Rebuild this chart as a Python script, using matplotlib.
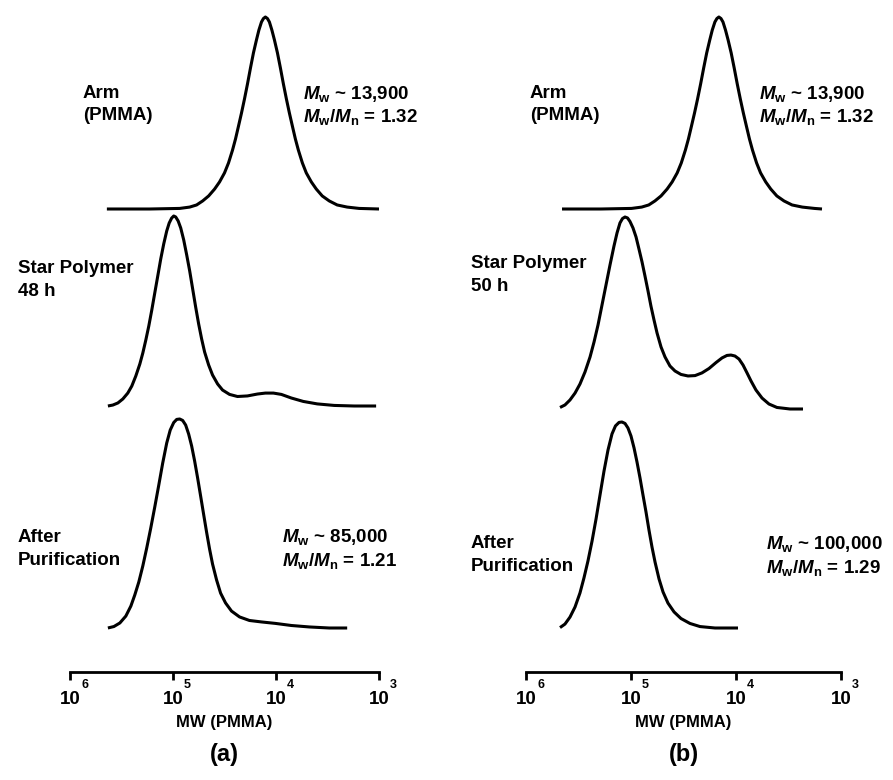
import numpy as np
import matplotlib
matplotlib.use('Agg')
import matplotlib.pyplot as plt

plt.rcParams['font.family'] = ['Liberation Sans', 'DejaVu Sans']
plt.rcParams['font.weight'] = 'bold'
plt.rcParams['mathtext.fontset'] = 'custom'
plt.rcParams['mathtext.rm'] = 'Liberation Sans:bold'
plt.rcParams['mathtext.it'] = 'Liberation Sans:italic:bold'
plt.rcParams['mathtext.bf'] = 'Liberation Sans:bold'

# ---- GPC traces: log10(MW) and normalised RI signal ----
# panel (a)
arm_a_logm = [5.642, 5.226, 4.935, 4.838, 4.771, 4.712, 4.654, 4.596, 4.548, 4.500, 4.461, 4.422,
              4.393, 4.364, 4.335, 4.306, 4.277, 4.248, 4.219, 4.190, 4.166, 4.141, 4.122, 4.103,
              4.083, 4.064, 4.040, 4.015, 3.986, 3.957, 3.928, 3.899, 3.870, 3.841, 3.812, 3.783,
              3.744, 3.706, 3.657, 3.609, 3.551, 3.483, 3.406, 3.309, 3.193, 3.0]
arm_a_sig = [0, 0, 0.003, 0.010, 0.021, 0.042, 0.068, 0.104, 0.141, 0.188, 0.240, 0.307,
             0.365, 0.432, 0.500, 0.573, 0.651, 0.734, 0.813, 0.880, 0.932, 0.974, 0.992, 1.0,
             0.992, 0.974, 0.932, 0.880, 0.813, 0.734, 0.651, 0.573, 0.500, 0.432, 0.365, 0.307,
             0.240, 0.188, 0.141, 0.104, 0.068, 0.042, 0.021, 0.010, 0.003, 0]

star_a_logm = [5.632, 5.584, 5.535, 5.487, 5.439, 5.400, 5.361, 5.322, 5.293, 5.264, 5.235, 5.206,
               5.177, 5.148, 5.119, 5.090, 5.061, 5.037, 5.013, 4.993, 4.974, 4.950, 4.925, 4.896,
               4.867, 4.838, 4.809, 4.780, 4.751, 4.722, 4.693, 4.654, 4.616, 4.567, 4.519, 4.451,
               4.374, 4.277, 4.180, 4.103, 4.025, 3.948, 3.851, 3.735, 3.599, 3.435, 3.241, 3.028]
star_a_sig = [0, 0.005, 0.016, 0.037, 0.068, 0.105, 0.158, 0.221, 0.279, 0.347, 0.421, 0.505,
              0.595, 0.684, 0.774, 0.853, 0.921, 0.963, 0.989, 1.0, 0.995, 0.974, 0.937, 0.874,
              0.795, 0.711, 0.616, 0.521, 0.432, 0.353, 0.284, 0.216, 0.163, 0.116, 0.084, 0.061,
              0.050, 0.053, 0.063, 0.068, 0.068, 0.061, 0.042, 0.024, 0.011, 0.003, 0, 0]

pur_a_logm = [5.632, 5.574, 5.516, 5.458, 5.409, 5.371, 5.332, 5.293, 5.255, 5.216, 5.177, 5.138,
              5.100, 5.061, 5.027, 4.993, 4.964, 4.935, 4.906, 4.877, 4.848, 4.819, 4.790, 4.761,
              4.732, 4.703, 4.674, 4.645, 4.616, 4.577, 4.538, 4.490, 4.432, 4.354, 4.258, 4.141,
              4.006, 3.851, 3.677, 3.483, 3.309]
pur_a_sig = [0, 0.007, 0.024, 0.057, 0.105, 0.158, 0.220, 0.297, 0.383, 0.478, 0.579, 0.684,
             0.789, 0.885, 0.947, 0.983, 0.998, 1.0, 0.993, 0.971, 0.928, 0.871, 0.799, 0.718,
             0.632, 0.545, 0.459, 0.378, 0.306, 0.230, 0.167, 0.120, 0.081, 0.053, 0.036, 0.029,
             0.022, 0.012, 0.005, 0, 0]

# panel (b)
arm_b_logm = [5.657, 5.286, 4.995, 4.898, 4.831, 4.772, 4.714, 4.656, 4.608, 4.560, 4.521, 4.482,
              4.453, 4.424, 4.395, 4.366, 4.337, 4.308, 4.279, 4.250, 4.226, 4.201, 4.182, 4.163,
              4.143, 4.124, 4.100, 4.075, 4.046, 4.017, 3.988, 3.959, 3.930, 3.901, 3.872, 3.843,
              3.804, 3.766, 3.717, 3.669, 3.611, 3.543, 3.466, 3.369, 3.253, 3.181]
arm_b_sig = arm_a_sig

star_b_logm = [5.676, 5.629, 5.581, 5.533, 5.486, 5.438, 5.390, 5.352, 5.314, 5.276, 5.238, 5.200,
               5.162, 5.133, 5.105, 5.081, 5.057, 5.033, 5.010, 4.981, 4.952, 4.924, 4.895, 4.867,
               4.838, 4.810, 4.781, 4.752, 4.714, 4.676, 4.629, 4.581, 4.524, 4.457, 4.390, 4.324,
               4.257, 4.190, 4.133, 4.086, 4.048, 4.010, 3.971, 3.933, 3.895, 3.857, 3.810, 3.752,
               3.686, 3.610, 3.486, 3.362]
star_b_sig = [0.008, 0.021, 0.047, 0.083, 0.130, 0.193, 0.271, 0.349, 0.438, 0.542, 0.646, 0.750,
              0.849, 0.917, 0.969, 0.992, 1.0, 0.995, 0.977, 0.943, 0.896, 0.833, 0.766, 0.693,
              0.615, 0.536, 0.464, 0.396, 0.323, 0.271, 0.224, 0.198, 0.180, 0.172, 0.174, 0.188,
              0.211, 0.242, 0.266, 0.279, 0.281, 0.276, 0.260, 0.229, 0.188, 0.146, 0.099, 0.057,
              0.026, 0.008, 0, 0]

pur_b_logm = [5.676, 5.629, 5.581, 5.533, 5.486, 5.448, 5.410, 5.371, 5.333, 5.295, 5.257, 5.219,
              5.181, 5.148, 5.114, 5.086, 5.057, 5.029, 5.000, 4.971, 4.943, 4.914, 4.886, 4.857,
              4.829, 4.800, 4.771, 4.733, 4.695, 4.648, 4.590, 4.524, 4.438, 4.343, 4.200, 3.981]
pur_b_sig = [0.002, 0.019, 0.053, 0.102, 0.170, 0.243, 0.325, 0.422, 0.529, 0.646, 0.762, 0.864,
             0.942, 0.981, 0.998, 1.0, 0.993, 0.971, 0.932, 0.874, 0.806, 0.728, 0.646, 0.563,
             0.476, 0.393, 0.320, 0.238, 0.175, 0.121, 0.078, 0.046, 0.022, 0.007, 0, 0]

tick_exps = [6, 5, 4, 3]

W, H = 893, 780
fig = plt.figure(figsize=(W / 100, H / 100), dpi=100)


def px(x, y):
    return x / W, 1 - y / H


def make_panel(left, right, traces, letter):
    ax = fig.add_axes([left / W, (H - 672) / H, (right - left) / W, 672 / H])
    for logm, sig, base, height in traces:
        ax.plot(10 ** np.array(logm), base + height * np.array(sig), color='black', lw=2.2,
                solid_joinstyle='round', solid_capstyle='butt')
    ax.set_xscale('log')
    ax.set_xlim(1e6, 1e3)
    ax.set_ylim(0, 672)
    for s in ['top', 'right', 'left']:
        ax.spines[s].set_visible(False)
    ax.spines['bottom'].set_linewidth(2.0)
    ax.set_yticks([])
    ax.set_xticks([10.0 ** e for e in tick_exps])
    ax.set_xticklabels(['10'] * len(tick_exps))
    ax.minorticks_off()
    ax.tick_params(axis='x', direction='out', length=5.5, width=2.0, pad=8, labelsize=13.5)
    for e in tick_exps:
        ax.annotate(str(e), xy=(10.0 ** e, 0), xycoords=ax.get_xaxis_transform(),
                    xytext=(10.5, -9), textcoords='offset points', ha='center', va='center',
                    fontsize=9, fontweight='bold')
    cx = (left + right) / 2
    fig.text(*px(cx, 722), 'MW (PMMA)', ha='center', va='center', fontsize=12)
    fig.text(*px(cx, 755), letter, ha='center', va='center', fontsize=17)
    return ax


ax_a = make_panel(70, 379, [(arm_a_logm, arm_a_sig, 463, 192),
                            (star_a_logm, star_a_sig, 266, 190),
                            (pur_a_logm, pur_a_sig, 44, 209)], '(a)')
ax_b = make_panel(526, 841, [(arm_b_logm, arm_b_sig, 463, 192),
                             (star_b_logm, star_b_sig, 263, 192),
                             (pur_b_logm, pur_b_sig, 44, 206)], '(b)')


def label(x, y, s, size=13.5):
    fig.text(*px(x, y), s, ha='left', va='baseline', fontsize=size)


# sample labels
label(83, 98, 'Arm')
label(83, 120, '(PMMA)')
label(18, 273, 'Star Polymer')
label(18, 296, '48 h')
label(18, 542, 'After')
label(18, 565, 'Purification')

label(530, 98, 'Arm')
label(530, 120, '(PMMA)')
label(471, 268, 'Star Polymer')
label(471, 291, '50 h')
label(471, 548, 'After')
label(471, 571, 'Purification')

# molecular weight annotations
label(303, 99, r'$M_{\rm w}$ ~ 13,900')
label(303, 122, r'$M_{\rm w}$/$M_{\rm n}$ = 1.32')
label(759, 99, r'$M_{\rm w}$ ~ 13,900')
label(759, 122, r'$M_{\rm w}$/$M_{\rm n}$ = 1.32')
label(282, 542, r'$M_{\rm w}$ ~ 85,000')
label(282, 566, r'$M_{\rm w}$/$M_{\rm n}$ = 1.21')
label(766, 549, r'$M_{\rm w}$ ~ 100,000')
label(766, 573, r'$M_{\rm w}$/$M_{\rm n}$ = 1.29')

fig.savefig('out.png', dpi=100)
